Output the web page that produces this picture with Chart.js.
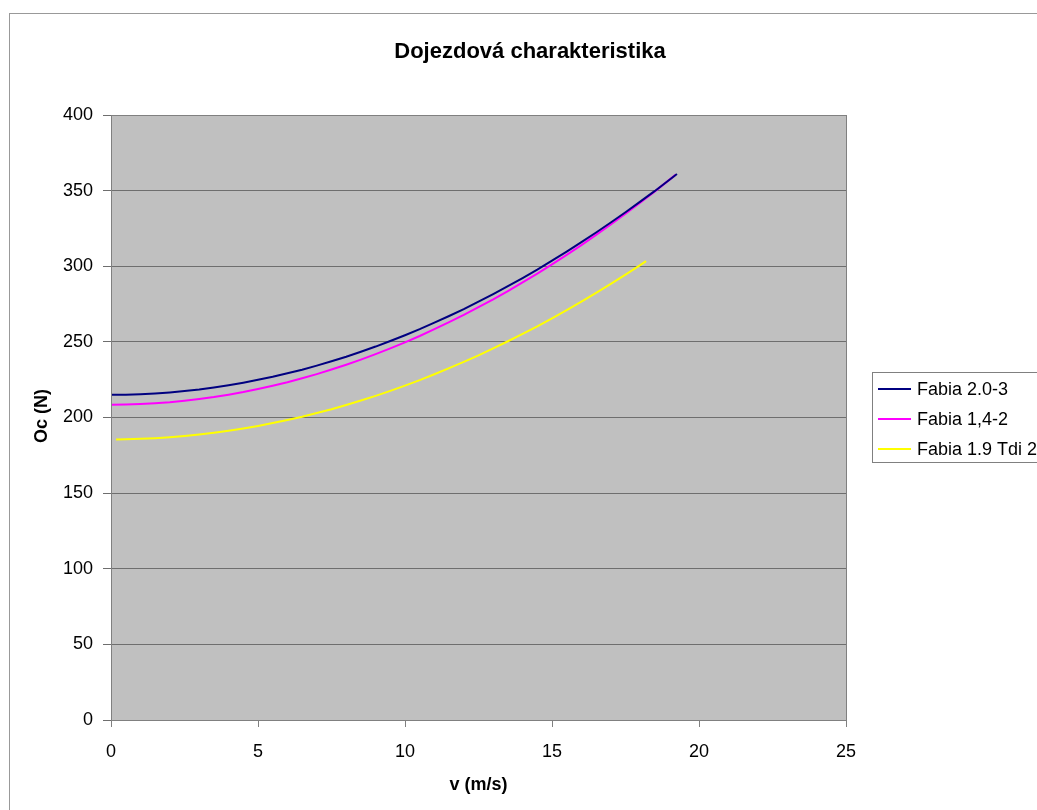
<!DOCTYPE html>
<html>
<head>
<meta charset="utf-8">
<script src="https://cdn.jsdelivr.net/npm/chart.js@4"></script>
<style>
  html, body { margin: 0; padding: 0; background: #fff; }
  #wrap { width: 1037px; height: 810px; }
</style>
</head>
<body>
<div id="wrap"><canvas id="chart" width="1037" height="810"></canvas></div>
<script>
// values
var seriesNames = ['Fabia 2.0-3', 'Fabia 1,4-2', 'Fabia 1.9 Tdi 2'];
var seriesColors = ['#000080', '#ff00ff', '#ffff00'];

var vBlue = [0, 0.5, 1, 1.5, 2, 2.5, 3, 3.5, 4, 4.5, 5, 5.5, 6, 6.5, 7, 7.5, 8, 8.5, 9, 9.5, 10,
  10.5, 11, 11.5, 12, 12.5, 13, 13.5, 14, 14.5, 15, 15.5, 16, 16.5, 17, 17.5, 18, 18.5, 19.25];
var ocBlue = [215.0, 215.1, 215.4, 215.9, 216.6, 217.5, 218.5, 219.8, 221.3, 223.0, 224.9, 226.9,
  229.2, 231.6, 234.3, 237.2, 240.2, 243.5, 246.9, 250.6, 254.4, 258.4, 262.7, 267.1, 271.7,
  276.6, 281.6, 286.8, 292.2, 297.8, 303.7, 309.7, 315.9, 322.3, 328.9, 335.7, 342.7, 349.8, 361.0];

var vPink = [0, 0.5, 1, 1.5, 2, 2.5, 3, 3.5, 4, 4.5, 5, 5.5, 6, 6.5, 7, 7.5, 8, 8.5, 9, 9.5, 10,
  10.5, 11, 11.5, 12, 12.5, 13, 13.5, 14, 14.5, 15, 15.5, 16, 16.5, 17, 17.5, 18, 18.5, 19.2];
var ocPink = [208.5, 208.6, 208.9, 209.4, 210.1, 211.1, 212.2, 213.5, 215.1, 216.8, 218.8, 221.0,
  223.3, 225.9, 228.7, 231.7, 234.9, 238.3, 241.9, 245.7, 249.7, 253.9, 258.4, 263.0, 267.8,
  272.9, 278.1, 283.6, 289.3, 295.1, 301.2, 307.5, 314.0, 320.7, 327.6, 334.7, 342.0, 349.5, 360.4];

var vYellow = [0.17, 0.5, 1, 1.5, 2, 2.5, 3, 3.5, 4, 4.5, 5, 5.5, 6, 6.5, 7, 7.5, 8, 8.5, 9, 9.5, 10,
  10.5, 11, 11.5, 12, 12.5, 13, 13.5, 14, 14.5, 15, 15.5, 16, 16.5, 17, 17.5, 18, 18.2];
var ocYellow = [185.5, 185.6, 185.9, 186.3, 186.9, 187.7, 188.7, 189.9, 191.2, 192.7, 194.4, 196.3,
  198.3, 200.5, 203.0, 205.5, 208.3, 211.2, 214.3, 217.6, 221.1, 224.7, 228.6, 232.6, 236.8,
  241.1, 245.7, 250.4, 255.3, 260.3, 265.6, 271.0, 276.6, 282.4, 288.4, 294.5, 300.8, 303.4];

var chartTitle = 'Dojezdová charakteristika';
var xTitle = 'v (m/s)';
var yTitle = 'Oc (N)';

function toPoints(xs, ys) {
  var pts = [];
  for (var i = 0; i < xs.length; i++) pts.push({ x: xs[i], y: ys[i] });
  return pts;
}

var allX = [vBlue, vPink, vYellow];
var allY = [ocBlue, ocPink, ocYellow];
var datasets = [];
for (var s = 0; s < seriesNames.length; s++) {
  datasets.push({
    label: seriesNames[s],
    data: toPoints(allX[s], allY[s]),
    borderColor: seriesColors[s],
    backgroundColor: seriesColors[s],
    borderWidth: 2,
    pointRadius: 0,
    showLine: true,
    tension: 0
  });
}

var FONT = 'Liberation Sans, Arial, sans-serif';

// frame, plot background, titles and legend
var decor = {
  id: 'decor',
  beforeDraw: function(chart) {
    var c = chart.ctx, a = chart.chartArea;
    c.save();
    c.fillStyle = '#fff';
    c.fillRect(0, 0, chart.width, chart.height);
    c.strokeStyle = '#999';
    c.lineWidth = 1;
    c.strokeRect(9.5, 13.5, 1100, 900);
    c.fillStyle = '#c0c0c0';
    c.fillRect(a.left, a.top, a.right - a.left, a.bottom - a.top);
    c.restore();
  },
  afterDraw: function(chart) {
    var c = chart.ctx, a = chart.chartArea;
    c.save();
    // plot border
    c.strokeStyle = '#808080';
    c.lineWidth = 1;
    c.strokeRect(a.left + 0.5, a.top + 0.5, a.right - a.left, a.bottom - a.top);

    c.fillStyle = '#000';
    c.textAlign = 'center';
    c.textBaseline = 'middle';
    c.font = 'bold 22px ' + FONT;
    c.fillText(chartTitle, 530, 52);
    c.font = 'bold 18px ' + FONT;
    c.fillText(xTitle, (a.left + a.right) / 2, 785);
    c.save();
    c.translate(42, 416);
    c.rotate(-Math.PI / 2);
    c.fillText(yTitle, 0, 0);
    c.restore();

    // legend
    c.fillStyle = '#fff';
    c.fillRect(872, 372, 200, 90);
    c.strokeStyle = '#808080';
    c.strokeRect(872.5, 372.5, 200, 90);
    c.font = '18px ' + FONT;
    c.textAlign = 'left';
    var rows = [389, 419, 449];
    for (var i = 0; i < seriesNames.length; i++) {
      c.strokeStyle = seriesColors[i];
      c.lineWidth = 2;
      c.beginPath();
      c.moveTo(878, rows[i]);
      c.lineTo(911, rows[i]);
      c.stroke();
      c.fillStyle = '#000';
      c.fillText(seriesNames[i], 917, rows[i] + 1);
    }
    c.restore();
  }
};

new Chart(document.getElementById('chart'), {
  type: 'scatter',
  data: { datasets: datasets },
  options: {
    responsive: false,
    animation: false,
    layout: { padding: { left: 0, top: 115, right: 191, bottom: 0 } },
    plugins: {
      legend: { display: false },
      title: { display: false },
      tooltip: { enabled: false }
    },
    scales: {
      x: {
        type: 'linear',
        min: 0, max: 25,
        afterFit: function(scale) { scale.height = 90; },
        ticks: { stepSize: 5, color: '#000', padding: 14, font: { family: FONT, size: 18 } },
        grid: { drawOnChartArea: false, drawTicks: true, tickLength: 7, color: '#808080' },
        border: { color: '#808080' }
      },
      y: {
        min: 0, max: 400,
        afterFit: function(scale) { scale.width = 111; },
        ticks: { stepSize: 50, color: '#000', padding: 10, font: { family: FONT, size: 18 } },
        grid: { color: '#6e6e6e', tickLength: 8, lineWidth: 1 },
        border: { color: '#808080' }
      }
    }
  },
  plugins: [decor]
});
</script>
</body>
</html>
